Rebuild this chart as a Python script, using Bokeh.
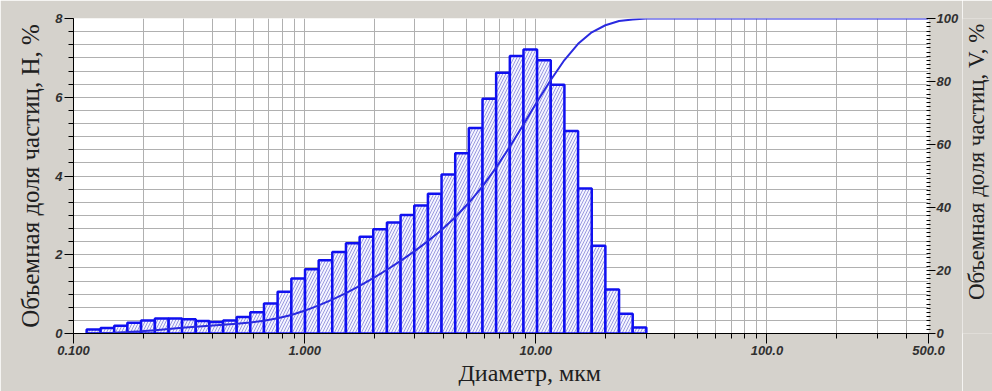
import math
from bokeh.plotting import figure
from bokeh.layouts import row
from bokeh.models import Range1d, LinearAxis, FixedTicker, Title, ColumnDataSource
from bokeh.core.properties import value
from bokeh.embed import file_html
from bokeh.resources import INLINE

# particle size bins (µm), bin edges
bin_edges = [0.114, 0.131, 0.150, 0.171, 0.196, 0.225, 0.258, 0.295, 0.338, 0.387,
             0.444, 0.508, 0.582, 0.667, 0.764, 0.876, 1.004, 1.150, 1.317, 1.509,
             1.729, 1.981, 2.270, 2.601, 2.980, 3.414, 3.911, 4.481, 5.133, 5.882,
             6.737, 7.721, 8.846, 10.13, 11.61, 13.30, 15.24, 17.46, 20.00, 22.92,
             26.26, 30.08]
# volume fraction per bin, H, %
volume_pct = [0.10, 0.14, 0.20, 0.27, 0.33, 0.38, 0.38, 0.36, 0.32, 0.29,
              0.33, 0.42, 0.54, 0.76, 1.06, 1.40, 1.63, 1.86, 2.07, 2.29,
              2.46, 2.65, 2.82, 3.01, 3.25, 3.55, 4.04, 4.58, 5.22, 5.96,
              6.62, 7.05, 7.21, 6.94, 6.32, 5.14, 3.68, 2.23, 1.12, 0.50, 0.15]
# cumulative volume fraction V, % at the bin edges, then flat to 500 µm
cumulative_x = bin_edges + [500.0]
cumulative_pct = [0.0, 0.10, 0.24, 0.44, 0.71, 1.04, 1.42, 1.80, 2.16, 2.48,
                  2.77, 3.10, 3.52, 4.06, 4.82, 5.88, 7.28, 8.91, 10.77, 12.84,
                  15.13, 17.59, 20.24, 23.06, 26.07, 29.32, 32.87, 36.91, 41.49, 46.71,
                  52.67, 59.29, 66.34, 73.55, 80.49, 86.81, 91.95, 95.63, 97.86, 99.2,
                  99.7, 100.0, 100.0]

x_major_ticks = [0.1, 1.0, 10.0, 100.0, 500.0]
x_major_labels = ["0.100", "1.000", "10.00", "100.0", "500.0"]
x_minor_ticks = [0.2, 0.3, 0.4, 0.5, 0.6, 0.7, 0.8, 0.9,
                 2, 3, 4, 5, 6, 7, 8, 9,
                 20, 30, 40, 50, 60, 70, 80, 90,
                 200, 300, 400]
left_ticks = [0, 2, 4, 6, 8]
right_ticks = [0, 20, 40, 60, 80, 100]
x_title = "Диаметр, мкм"
left_title = "Объемная доля частиц, H, %"
right_title = "Объемная доля частиц, V, %"

BG = "#d5d2cc"
BLUE = "#1010f0"
GRID = "#b0b0b0"

W, H = 962, 391
BL, BR, BT, BB = 73, 34, 18, 58

p = figure(width=W, height=H, x_axis_type="log",
           x_range=Range1d(0.1, 500), y_range=Range1d(0, 8),
           output_backend="svg", toolbar_location=None,
           min_border_left=BL, min_border_right=BR, min_border_top=BT, min_border_bottom=BB)
p.background_fill_color = "white"
p.border_fill_color = BG
p.outline_line_color = None

src = ColumnDataSource(dict(left=bin_edges[:-1], right=bin_edges[1:], top=volume_pct))
p.quad(left="left", right="right", bottom=0, top="top", source=src,
       fill_color="#f4f4ff", line_color=BLUE, line_width=2.5,
       hatch_pattern="/", hatch_color="#9a9ae0", hatch_scale=6, hatch_weight=1)

p.extra_y_ranges = {"cum": Range1d(0, 100)}
p.line(cumulative_x, cumulative_pct, y_range_name="cum", line_color="#2a2ae0", line_width=2)

# grids
p.xgrid.ticker = FixedTicker(ticks=x_minor_ticks + x_major_ticks)
p.xgrid.grid_line_color = GRID
p.ygrid.ticker = FixedTicker(ticks=[i / 3 for i in range(25)])
p.ygrid.grid_line_color = GRID

tick_font = dict(major_label_text_font="Liberation Sans",
                 major_label_text_font_style="bold italic",
                 major_label_text_font_size="13px",
                 major_label_text_color="#303030")

xa = p.below[0]
xa.ticker = FixedTicker(ticks=x_major_ticks, minor_ticks=x_minor_ticks)
xa.major_label_overrides = {t: l for t, l in zip(x_major_ticks, x_major_labels)}
xa.major_tick_in = 0
xa.major_tick_out = 10
xa.minor_tick_in = 0
xa.minor_tick_out = 5
xa.axis_line_color = "black"
xa.major_label_standoff = 2
for k, v in tick_font.items():
    setattr(xa, k, v)

ya = p.left[0]
ya.ticker = FixedTicker(ticks=left_ticks, minor_ticks=[i / 3 for i in range(25)])
ya.major_tick_in = 0
ya.major_tick_out = 9
ya.minor_tick_in = 0
ya.minor_tick_out = 5
ya.major_label_standoff = 2
ya.axis_label = left_title
ya.axis_label_standoff = 8
ya.axis_label_text_font = "Liberation Serif"
ya.axis_label_text_font_style = "normal"
ya.axis_label_text_font_size = "25px"
ya.axis_label_text_color = "#202020"
for k, v in tick_font.items():
    setattr(ya, k, v)

ra = LinearAxis(y_range_name="cum",
                ticker=FixedTicker(ticks=right_ticks, minor_ticks=[i * 4 / 3 for i in range(76)]))
ra.axis_line_color = None
ra.major_tick_in = 1
ra.major_tick_out = 7
ra.minor_tick_in = 2
ra.minor_tick_out = 2
ra.major_label_standoff = 1
for k, v in tick_font.items():
    setattr(ra, k, v)
p.add_layout(ra, "right")

p.add_layout(Title(text=x_title, align="left", offset=385, standoff=0,
                   text_font="Liberation Serif", text_font_style="normal",
                   text_font_size="24px", text_color="#202020"), "below")

# narrow strip on the right carrying the right-hand axis title (reads bottom to top)
p2 = figure(width=992 - W, height=H, x_range=Range1d(0, 1), y_range=Range1d(0, H),
            output_backend="svg", toolbar_location=None,
            min_border_left=0, min_border_right=0, min_border_top=0, min_border_bottom=0)
p2.axis.visible = False
p2.grid.visible = False
p2.outline_line_color = None
p2.background_fill_color = BG
p2.border_fill_color = BG
p2.text(x=[0.45], y=[H - 178], text=[right_title], angle=math.pi / 2,
        text_align="center", text_baseline="middle",
        text_font=value("Liberation Serif"), text_font_size="23px", text_color="#202020")

layout = row(p, p2)
open("out.html", "w").write(file_html(layout, INLINE))
